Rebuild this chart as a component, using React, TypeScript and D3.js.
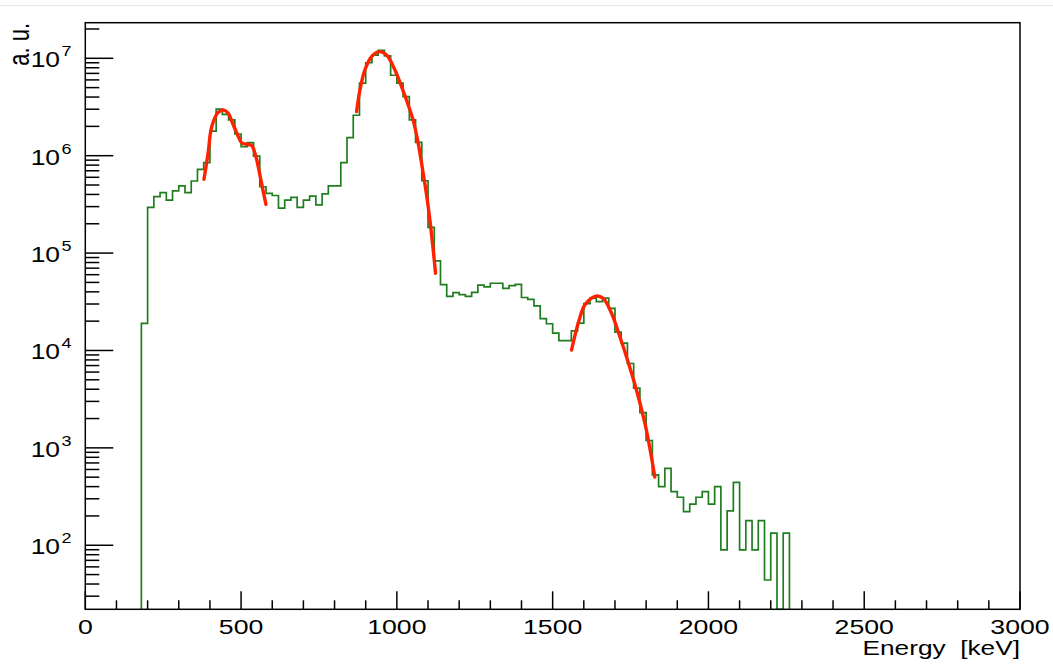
import React from 'react';
import * as d3 from 'd3';

// ---- data ----
const HIST_START_KEV = 180;
const BIN_WIDTH_KEV = 20;
const counts: number[] = [
  1.9e4, 2.95e5, 3.8e5, 4.17e5, 3.5e5, 4.35e5, 4.89e5, 4.17e5, 5.5e5, 7.24e5,
  8.5e5, 1.79e6, 3.0e6, 2.66e6, 2.33e6, 1.67e6, 1.24e6, 1.36e6, 9.9e5, 4.8e5,
  4.1e5, 3.9e5, 2.9e5, 3.5e5, 3.74e5, 2.95e5, 3.5e5, 3.85e5, 3.12e5, 4.05e5,
  4.9e5, 4.9e5, 8.5e5, 1.53e6, 2.6e6, 5.55e6, 9.0e6, 1.08e7, 1.21e7, 1.06e7,
  6.7e6, 5.55e6, 4.04e6, 2.33e6, 1.37e6, 5.53e5, 1.84e5, 8.3e4, 4.75e4, 3.6e4,
  3.93e4, 3.75e4, 3.6e4, 3.95e4, 4.68e4, 4.5e4, 4.9e4, 4.9e4, 4.35e4, 4.63e4,
  4.78e4, 3.5e4, 3.35e4, 2.87e4, 2.12e4, 1.88e4, 1.51e4, 1.26e4, 1.26e4, 1.59e4,
  1.91e4, 3.03e4, 3.45e4, 3.17e4, 3.44e4, 2.71e4, 1.54e4, 1.19e4, 7.35e3, 4.1e3,
  2.3e3, 1.19e3, 527, 400, 617, 355, 311, 221, 265, 311,
  355, 265, 400, 89.6, 225, 443, 89.6, 179, 89.6, 179,
  44, 133, 0, 133,
];

const fit1Energy = [380.9, 394.7, 402.3, 412.9, 426.8, 445, 458.9, 472.9, 487.8, 501.7, 517.8, 533.9, 547.7, 560.5, 571.2, 579.8];
const fit1Value = [5.73e5, 1.1e6, 1.76e6, 2.33e6, 2.79e6, 2.94e6, 2.72e6, 2.15e6, 1.66e6, 1.36e6, 1.31e6, 1.27e6, 9.77e5, 6.31e5, 4.27e5, 3.16e5];

const fit2Energy = [870.7, 881.4, 897.4, 918.9, 943.4, 966.9, 993.7, 1015, 1036.5, 1052, 1068.5, 1084.5, 1095.4, 1106, 1116.6, 1124.2];
const fit2Value = [2.83e6, 4.73e6, 7.59e6, 1.04e7, 1.17e7, 1.08e7, 7.59e6, 5.12e6, 3.31e6, 2.33e6, 1.34e6, 6.59e5, 3.94e5, 2.19e5, 1.08e5, 6.21e4];

const fit3Energy = [1560.6, 1582, 1603, 1625, 1641, 1662, 1689, 1715.6, 1742, 1769, 1796, 1812, 1828];
const fit3Value = [1.01e4, 1.9e4, 2.93e4, 3.44e4, 3.63e4, 3.44e4, 2.41e4, 1.39e4, 7.67e3, 3.93e3, 1.79e3, 991, 501];

const xMajorTicks = [0, 500, 1000, 1500, 2000, 2500, 3000];
const yMajorExponents = [2, 3, 4, 5, 6, 7];
const xTitle = 'Energy  [keV]';
const yTitle = 'a. u.';

// ---- layout ----
const W = 1053;
const H = 664;
const LEFT = 85.3;
const RIGHT = 1020;
const TOP = 22.7;
const BOTTOM = 609.3;
const FONT = '"Liberation Sans", Arial, Helvetica, sans-serif';
const STRETCH = 1.2;

export default function App() {
  const x = d3.scaleLinear().domain([0, 3000]).range([LEFT, RIGHT]);
  const y = d3.scaleLog().domain([22.0, 2.32e7]).range([BOTTOM, TOP]);

  const yv = (v: number) => (v > 0 ? Math.min(BOTTOM, y(v)) : BOTTOM);

  // histogram points (step-after)
  const pts: [number, number][] = [];
  pts.push([x(HIST_START_KEV), BOTTOM]);
  counts.forEach((c, i) => {
    pts.push([x(HIST_START_KEV + i * BIN_WIDTH_KEV), yv(c)]);
  });
  pts.push([x(HIST_START_KEV + counts.length * BIN_WIDTH_KEV), BOTTOM]);
  const histPath = d3.line().curve(d3.curveStepAfter)(pts) || '';

  const mkFit = (es: number[], vs: number[]) =>
    d3.line<[number, number]>().curve(d3.curveCatmullRom.alpha(0.5))(
      es.map((e, i) => [x(e), y(vs[i])] as [number, number])
    ) || '';

  const xMinor = d3.range(0, 3001, 100).filter((v) => v % 500 !== 0);
  const yMinor: number[] = [];
  for (let d = 1; d <= 7; d++) {
    for (let m = 2; m <= 9; m++) {
      const v = m * Math.pow(10, d);
      if (v >= 22 && v <= 2.32e7) yMinor.push(v);
    }
  }

  return (
    <svg
      width={W}
      height={H}
      style={{ position: 'absolute', left: 0, top: 0, background: '#fff' }}
      fontFamily={FONT}
    >
      <rect x={0} y={0} width={W} height={H} fill="#fff" />
      <line x1={0} x2={W} y1={5.5} y2={5.5} stroke="#e8e8e8" strokeWidth={1} />

      {/* histogram */}
      <clipPath id="plotClip">
        <rect x={LEFT} y={TOP} width={RIGHT - LEFT} height={BOTTOM - TOP} />
      </clipPath>
      <path d={histPath} fill="none" stroke="#1f7d1f" strokeWidth={1.7} clipPath="url(#plotClip)" />

      {/* fits */}
      {[
        [fit1Energy, fit1Value],
        [fit2Energy, fit2Value],
        [fit3Energy, fit3Value],
      ].map(([es, vs], i) => (
        <path key={i} d={mkFit(es, vs)} fill="none" stroke="#ff2200" strokeWidth={3.4} strokeLinecap="round" />
      ))}

      {/* frame */}
      <rect x={LEFT} y={TOP} width={RIGHT - LEFT} height={BOTTOM - TOP} fill="none" stroke="#000" strokeWidth={1.5} />

      {/* x ticks */}
      {xMajorTicks.map((t) => (
        <g key={'xm' + t}>
          <line x1={x(t)} x2={x(t)} y1={BOTTOM} y2={BOTTOM - 18} stroke="#000" strokeWidth={1.5} />
          <text
            transform={`translate(${x(t)},634) scale(1.3,1)`}
            textAnchor="middle"
            fontSize={20.5}
            fill="#000"
          >
            {String(t)}
          </text>
        </g>
      ))}
      {xMinor.map((t) => (
        <line key={'xn' + t} x1={x(t)} x2={x(t)} y1={BOTTOM} y2={BOTTOM - 9} stroke="#000" strokeWidth={1.5} />
      ))}

      {/* y ticks */}
      {yMajorExponents.map((e) => {
        const ty = y(Math.pow(10, e));
        return (
          <g key={'ym' + e}>
            <line x1={LEFT} x2={LEFT + 28} y1={ty} y2={ty} stroke="#000" strokeWidth={1.5} />
            <text transform={`translate(60,${ty + 9}) scale(${STRETCH},1)`} textAnchor="end" fontSize={22} fill="#000">
              10
            </text>
            <text transform={`translate(61.5,${ty - 2}) scale(${STRETCH},1)`} textAnchor="start" fontSize={15} fill="#000">
              {String(e)}
            </text>
          </g>
        );
      })}
      {yMinor.map((v) => (
        <line key={'yn' + v} x1={LEFT} x2={LEFT + 14} y1={y(v)} y2={y(v)} stroke="#000" strokeWidth={1.5} />
      ))}

      {/* titles */}
      <text
        transform={`translate(${RIGHT},655) scale(1.25,1)`}
        textAnchor="end"
        fontSize={21}
        fill="#000"
        xmlSpace="preserve"
        style={{ whiteSpace: 'pre' }}
      >
        {xTitle}
      </text>
      <text
        transform={`translate(29,23) scale(1.3,1) rotate(-90)`}
        textAnchor="end"
        fontSize={22}
        fill="#000"
        xmlSpace="preserve"
        style={{ whiteSpace: 'pre' }}
      >
        {yTitle}
      </text>
    </svg>
  );
}
